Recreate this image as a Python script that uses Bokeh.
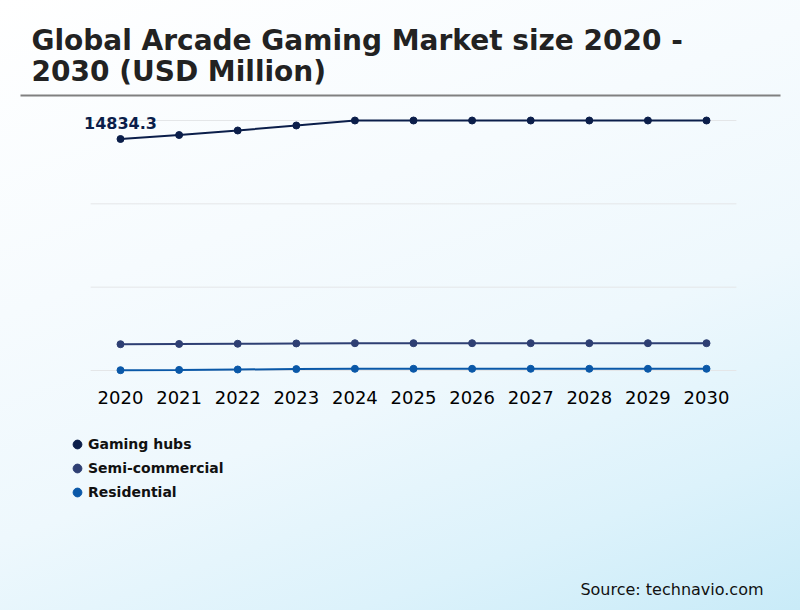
from bokeh.plotting import figure
from bokeh.models import (Range1d, Label, Legend, LegendItem,
                          BoxAnnotation, GlobalInlineStyleSheet)
from bokeh.core.properties import value
from bokeh.embed import file_html
from bokeh.resources import INLINE

# ---- data ----
years = [2020, 2021, 2022, 2023, 2024, 2025, 2026, 2027, 2028, 2029, 2030]
year_labels = [str(y) for y in years]
gaming_hubs = [14834.3, 15090, 15380, 15700, 16020, 16020, 16020, 16020, 16020, 16020, 16020]
semi_commercial = [1685, 1700, 1715, 1735, 1750, 1750, 1750, 1750, 1750, 1750, 1750]
residential = [20, 40, 65, 90, 110, 110, 110, 110, 110, 110, 110]
series_names = ["Gaming hubs", "Semi-commercial", "Residential"]
series_colors = ["#0b1e4a", "#2e3f73", "#0a58a8"]
grid_values = [0, 5340, 10680, 16020]

title_1 = "Global Arcade Gaming Market size 2020 -"
title_2 = "2030 (USD Million)"
source_text = "Source: technavio.com"

FONT = "DejaVu Sans"

W, H = 800, 610
p = figure(width=W, height=H, output_backend="svg", toolbar_location=None,
           x_range=Range1d(2017.952, 2031.604),
           y_range=Range1d(-15379, 23710),
           min_border=0, min_border_left=0, min_border_right=0,
           min_border_top=0, min_border_bottom=0)

p.title.visible = False
p.xaxis.visible = False
p.yaxis.visible = False
p.xgrid.visible = False
p.ygrid.visible = False
p.outline_line_color = None
p.border_fill_alpha = 0
p.background_fill_alpha = 0
p.stylesheets = [GlobalInlineStyleSheet(css=(
    "html{min-height:100%;background:linear-gradient(160deg,#ffffff 0%,#f6fbfe 35%,"
    "#eef8fd 60%,#dcf2fb 82%,#c9ebf8 100%) fixed;}"
    "body{background:transparent;}"))]

# horizontal grid lines across the plotting area
x_lo = years[0] - 0.51
x_hi = years[-1] + 0.51
p.segment(x0=[x_lo] * len(grid_values), x1=[x_hi] * len(grid_values),
          y0=grid_values, y1=grid_values, line_color="#e4e6e8", line_width=1)

# x tick labels (drawn through the data scale)
p.text(x=years, y=[grid_values[0]] * len(years), text=year_labels,
       text_font=value(FONT), text_font_size="18px", text_color="#000000",
       text_align="center", text_baseline="alphabetic", y_offset=27)

# series
all_series = [gaming_hubs, semi_commercial, residential]
legend_items = []
for name, vals, col in zip(series_names, all_series, series_colors):
    p.line(years, vals, line_color=col, line_width=2)
    r = p.scatter(years, vals, size=7, fill_color=col, line_color=col)
    legend_items.append(LegendItem(label=name, renderers=[r]))

# data label on first point
p.text(x=[years[0]], y=[gaming_hubs[0]], text=[f"{gaming_hubs[0]}"],
       text_font=value(FONT), text_font_style="bold", text_font_size="16px",
       text_color="#0b1e4a", text_align="center", text_baseline="alphabetic",
       y_offset=-16)

legend = Legend(items=legend_items, location=(66, 107), orientation="vertical",
                glyph_width=22, glyph_height=22, label_height=22, spacing=2,
                label_standoff=0, padding=0, margin=0,
                label_text_font=FONT, label_text_font_style="bold",
                label_text_font_size="14px", label_text_color="#111111",
                border_line_color=None, background_fill_alpha=0)
p.add_layout(legend, "center")

# titles
for txt, yy in [(title_1, H - 40), (title_2, H - 71)]:
    p.add_layout(Label(x=31, y=yy, x_units="screen", y_units="screen", text=txt,
                       text_font=FONT, text_font_style="bold", text_font_size="28px",
                       text_color="#222222", text_baseline="alphabetic"))

# rule under title
p.add_layout(BoxAnnotation(left=20, right=780, top=94, bottom=96,
                           left_units="canvas", right_units="canvas",
                           top_units="canvas", bottom_units="canvas",
                           fill_color="#808080", fill_alpha=1, line_color=None))

p.add_layout(Label(x=763, y=H - 589, x_units="screen", y_units="screen", text=source_text,
                   text_font=FONT, text_font_size="16px", text_color="#111111",
                   text_align="right", text_baseline="alphabetic"))

open("out.html", "w").write(file_html(p, INLINE))
